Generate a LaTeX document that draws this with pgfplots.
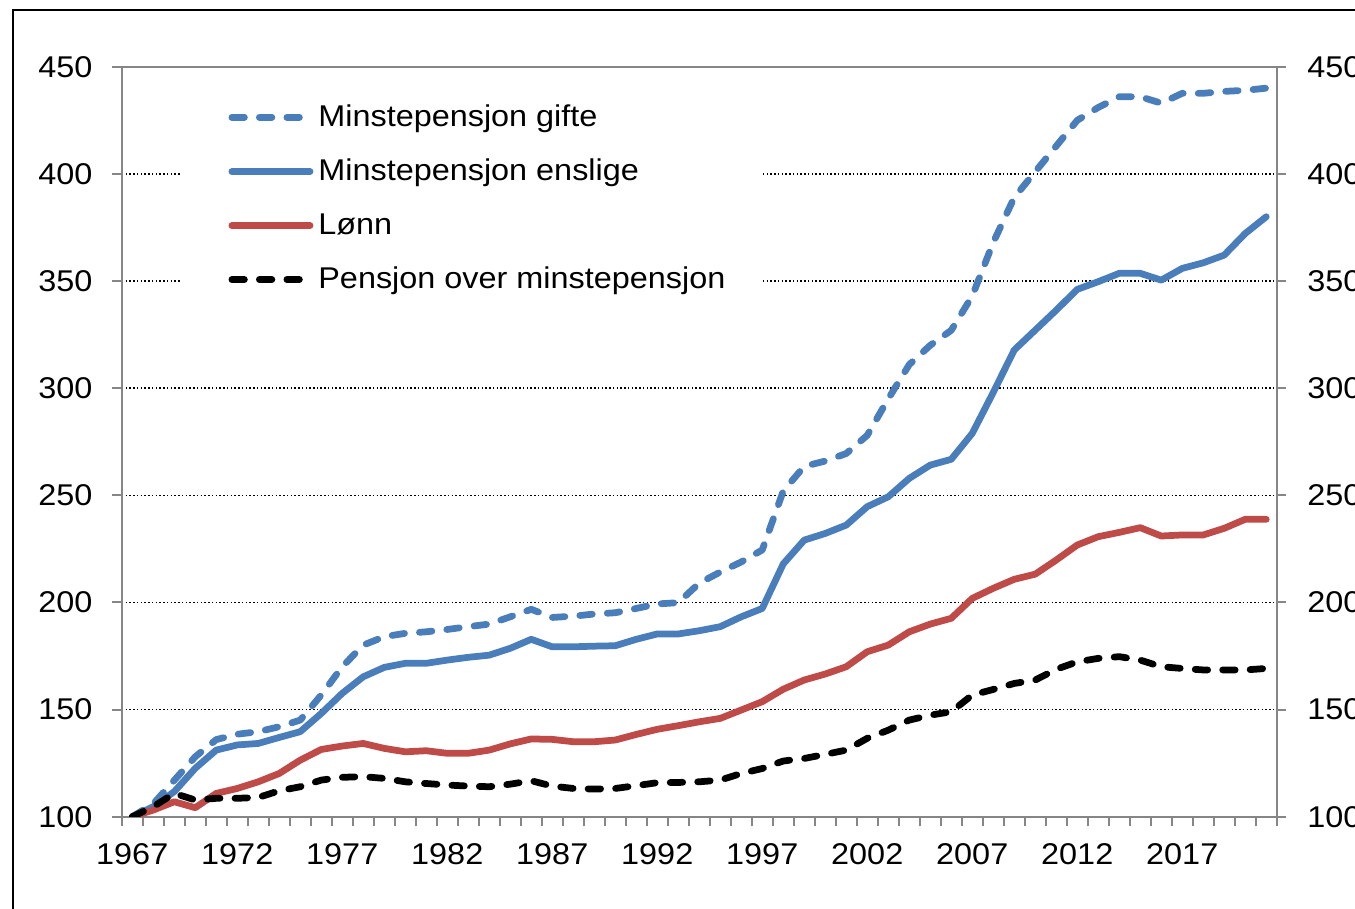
\documentclass[border=0pt]{standalone}
\usepackage{pgfplots}
\pgfplotsset{compat=1.18}
\usepackage{pgfplotstable}
\usepackage{fontspec}
\setmainfont{Liberation Sans}[FakeStretch=1.08]
\definecolor{cblue}{HTML}{4A7EBB}
\definecolor{cred}{HTML}{BE4B48}
\definecolor{axgray}{HTML}{868686}

\pgfplotstableread{
year gifte enslige lonn pensjon
1967 100 100 100 100
1968 106 104.7 103.1 104.7
1969 117 111.7 107.0 110.9
1970 128 122.6 104.2 107.8
1971 136 131.1 110.9 108.6
1972 138.5 133.5 113.2 108.6
1973 139.7 134.2 116.3 109.0
1974 142.0 137.0 120.2 112.1
1975 145.1 139.7 126.4 114.0
1976 156.8 148.2 131.4 117.1
1977 170.0 157.6 133.0 118.4
1978 180.1 165.3 134.2 118.7
1979 184.0 169.7 131.9 117.9
1980 185.6 171.6 130.3 116.3
1981 186.3 171.6 130.8 115.5
1982 187.4 173.1 129.6 114.8
1983 188.7 174.4 129.6 114.3
1984 189.9 175.4 131.1 114.0
1985 193.3 178.6 134.0 115.2
1986 196.8 182.8 136.3 116.8
1987 193.0 179.3 136.1 114.3
1988 193.6 179.3 135.0 113.2
1989 194.6 179.6 135.0 112.9
1990 195.2 179.8 135.8 113.2
1991 197.2 182.8 138.4 114.5
1992 199.3 185.3 140.8 115.9
1993 199.9 185.3 142.5 116.0
1994 209.0 186.8 144.3 116.3
1995 214.2 188.7 145.9 117.1
1996 218.9 193.3 149.8 120.2
1997 224.5 197.2 153.7 122.5
1998 252 218 159.5 126
1999 263.5 229.1 163.8 127.2
2000 266 232.2 166.6 129.1
2001 269.5 236.1 170.0 131.1
2002 278 244.7 177.0 136.6
2003 295 249.3 180.1 140.4
2004 311 257.9 186.3 145.1
2005 320 264.1 189.9 147.4
2006 327 266.8 192.6 149.0
2007 343 278.9 201.9 156.8
2008 368 298 206.6 159.4
2009 389 317.8 210.8 162.2
2010 401 327.1 213.2 163.8
2011 413 336.4 219.8 168.8
2012 425 346.1 226.8 172.3
2013 431 349.7 230.7 173.9
2014 436 353.6 232.7 174.7
2015 436 353.6 234.9 173.1
2016 433 350.4 231.0 170.0
2017 437.6 355.9 231.5 169.2
2018 437.6 358.5 231.5 168.5
2019 438.5 362.1 234.6 168.5
2020 439 372.2 238.8 168.5
2021 440 380.0 238.8 169.2
}\datatable

\newcommand{\tickfont}{\fontsize{12}{14}\selectfont}

\pgfplotsset{
  common/.style={
    at={(48.7pt,36.9pt)}, anchor=south west,
    scale only axis, width=462pt, height=300pt,
    xmin=1966.5, xmax=2021.5, ymin=100, ymax=450,
    /pgf/number format/assume math mode=true,
    tick label style={font=\tickfont},
  },
  dashA/.style={line width=2.7pt, line cap=round, line join=round, dash pattern=on 5.0pt off 6.0pt},
}

\begin{document}
\begin{tikzpicture}
% layer 0: grid and labels
\begin{axis}[common,
  axis line style={draw=none},
  major tick length=0pt,
  xtick={1967,1972,...,2017},
  xticklabels={1967,1972,1977,1982,1987,1992,1997,2002,2007,2012,2017},
  xticklabel style={anchor=north, inner sep=0pt, yshift=-10.5pt},
  ytick={100,150,...,450},
  yticklabel style={anchor=east, inner sep=0pt, xshift=-11.5pt},
  ymajorgrids,
  grid style={black, line width=0.6pt, dash pattern=on 0.6pt off 0.9pt},
]
\addplot[draw=none] coordinates {(1967,100)};
\end{axis}
% layer 1: data, frame, ticks
\begin{axis}[common,
  axis line style={draw=axgray, line width=0.8pt},
  tick style={draw=axgray, line width=0.8pt},
  tick align=outside,
  major tick length=3.8pt,
  xtick={1966.5,1967.5,...,2021.5},
  xticklabels={},
  ytick={100,150,...,450},
  yticklabels={},
  xtick pos=bottom, ytick pos=both,
  legend style={at={(0.092,0.957)}, anchor=north west, draw=none, fill=none,
    inner xsep=0pt, inner ysep=0pt, row sep=7.6pt,
    font=\tickfont, legend cell align=left},
  legend image code/.code={\draw[#1] (1.35pt,0pt) -- (32.6pt,0pt);},
]
\fill[white] (rel axis cs:0.0505,0.989) rectangle (rel axis cs:0.554,0.682);
\addplot[cblue, dashA] table[x=year, y=gifte] {\datatable};
\addlegendentry{Minstepensjon gifte}
\addplot[cblue, line width=2.7pt, line cap=round, line join=round] table[x=year, y=enslige] {\datatable};
\addlegendentry{Minstepensjon enslige}
\addplot[cred, line width=2.7pt, line cap=round, line join=round] table[x=year, y=lonn] {\datatable};
\addlegendentry{Lønn}
\addplot[black, dashA] table[x=year, y=pensjon] {\datatable};
\addlegendentry{Pensjon over minstepensjon}
\end{axis}
% layer 2: right labels
\begin{axis}[common,
  axis line style={draw=none},
  major tick length=0pt,
  xtick=\empty,
  ytick={100,150,...,450},
  yticklabel pos=right,
  yticklabel style={anchor=west, inner sep=0pt, xshift=12pt},
]
\addplot[draw=none] coordinates {(1967,100)};
\end{axis}
\draw[black, line width=0.6pt] (5.1pt,-20pt) -- (5.1pt,359.6pt) -- (600pt,359.6pt);
\pgfresetboundingbox
\useasboundingbox (0pt,0pt) rectangle (542pt,363.6pt);
\end{tikzpicture}
\end{document}
